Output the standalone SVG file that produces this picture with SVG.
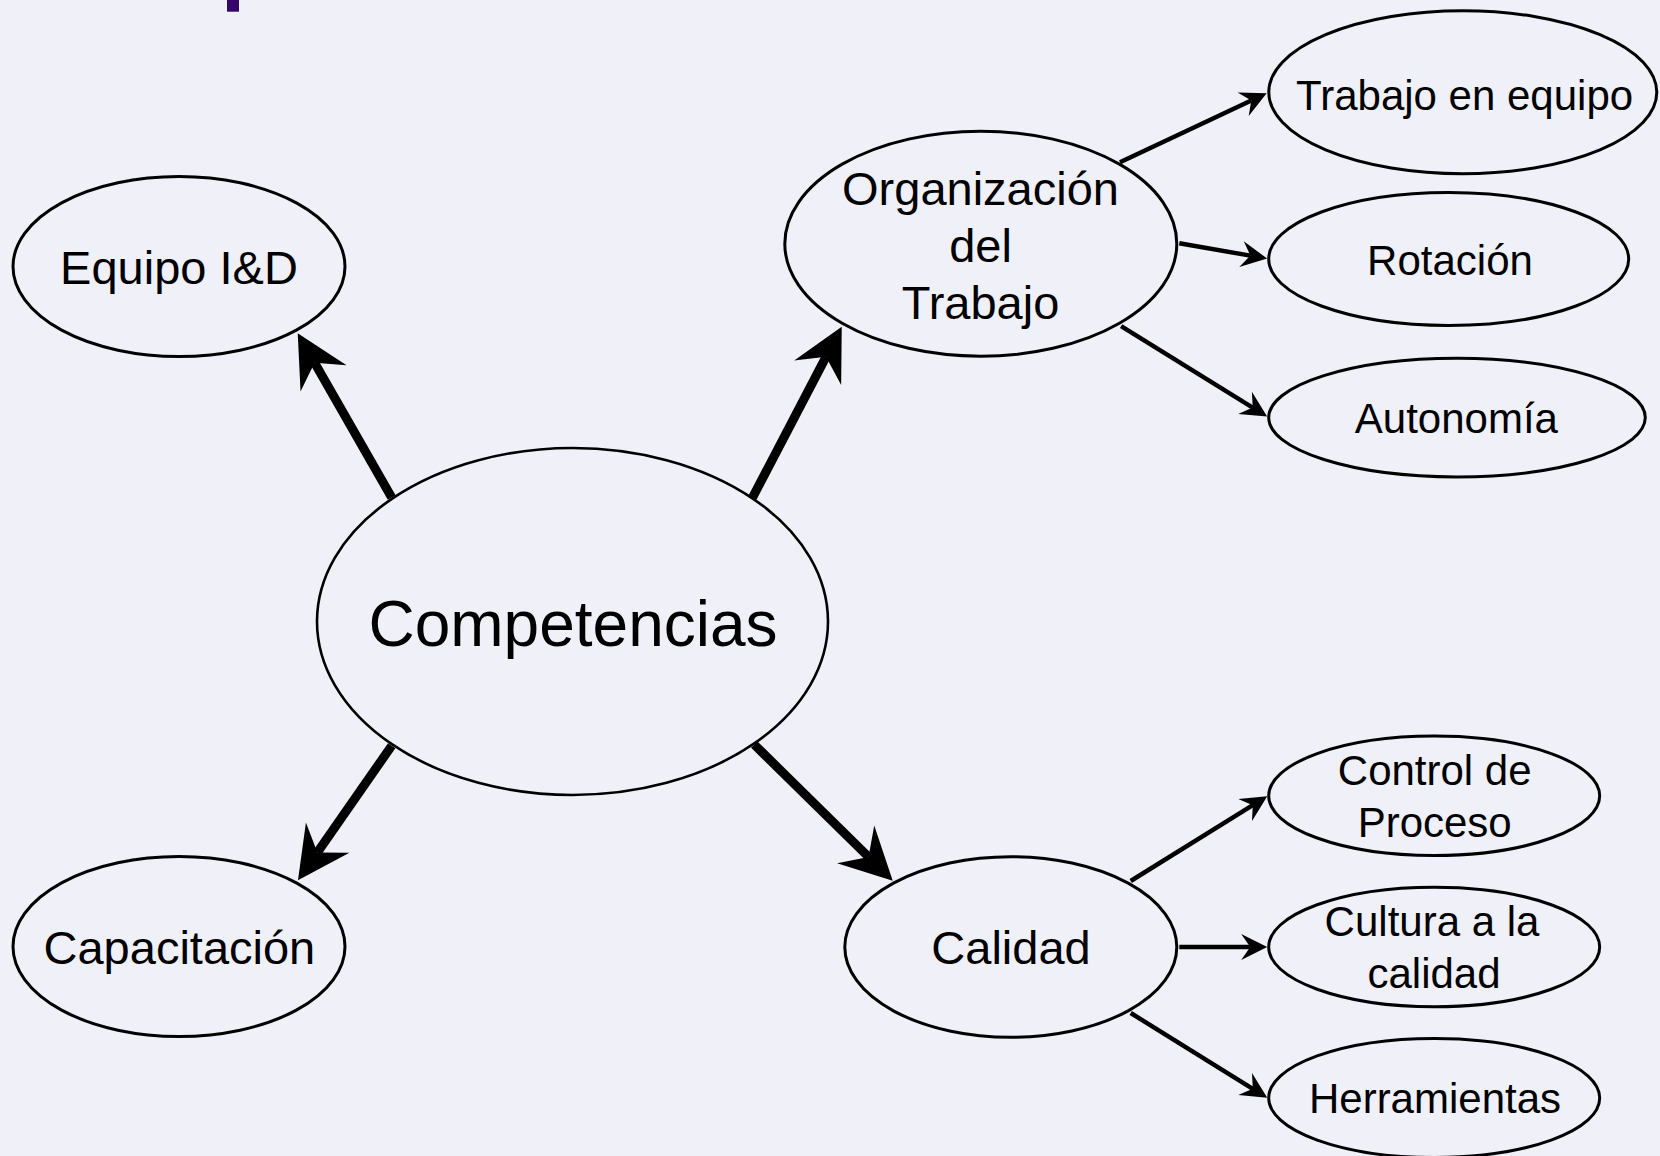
<svg xmlns="http://www.w3.org/2000/svg" width="1660" height="1156" viewBox="0 0 1660 1156">
<style>
.node{fill:none;stroke:#000;stroke-width:3}
.lbl{font-family:"Liberation Sans",Arial,sans-serif;fill:#000;text-anchor:middle}
.big{font-size:47px}
.sm{font-size:42px}
.thick{stroke:#000;stroke-width:9;fill:none}
.thin{stroke:#000;stroke-width:4.5;fill:none}
</style>
<defs>
<marker id="hBig" markerUnits="userSpaceOnUse" markerWidth="60" markerHeight="60" refX="0" refY="0" orient="auto" overflow="visible">
<path d="M34,0 L-18,-26.5 L0,0 L-18,26.5 Z" fill="#000"/>
</marker>
<marker id="hSm" markerUnits="userSpaceOnUse" markerWidth="30" markerHeight="30" refX="0" refY="0" orient="auto" overflow="visible">
<path d="M17,0 L-9,-13 L0,0 L-9,13 Z" fill="#000"/>
</marker>
</defs>
<rect x="0" y="0" width="1660" height="1156" fill="#EFF0F8"/>
<rect x="227" y="0" width="12" height="11.7" fill="#36076b"/>

<g id="connectors">
<line class="thick" x1="391.7" y1="497.6" x2="314.6" y2="362.8" marker-end="url(#hBig)"/>
<line class="thick" x1="752.5" y1="497.6" x2="826.0" y2="356.8" marker-end="url(#hBig)"/>
<line class="thick" x1="391.7" y1="745.7" x2="317.4" y2="852.4" marker-end="url(#hBig)"/>
<line class="thick" x1="754.3" y1="744.6" x2="868.5" y2="856.9" marker-end="url(#hBig)"/>
<line class="thin" x1="1120" y1="162.2" x2="1251.3" y2="100.5" marker-end="url(#hSm)"/>
<line class="thin" x1="1179.3" y1="243.3" x2="1250.4" y2="255.6" marker-end="url(#hSm)"/>
<line class="thin" x1="1121.1" y1="326.2" x2="1252.7" y2="407.6" marker-end="url(#hSm)"/>
<line class="thin" x1="1130.7" y1="881" x2="1252.8" y2="805.2" marker-end="url(#hSm)"/>
<line class="thin" x1="1179.3" y1="947" x2="1250.2" y2="947" marker-end="url(#hSm)"/>
<line class="thin" x1="1130.7" y1="1013" x2="1252.8" y2="1088.8" marker-end="url(#hSm)"/>
</g>

<g id="competencias">
<ellipse class="node" cx="572.5" cy="621.5" rx="255.5" ry="173.5" style="stroke-width:2.6"/>
<text class="lbl" x="573" y="645.5" font-size="64">Competencias</text>
</g>
<g id="equipo">
<ellipse class="node" cx="179" cy="266.5" rx="166" ry="90"/>
<text class="lbl big" x="179" y="284">Equipo I&amp;D</text>
</g>
<g id="capacitacion">
<ellipse class="node" cx="179" cy="946.5" rx="166" ry="90"/>
<text class="lbl big" x="179.4" y="964.3">Capacitación</text>
</g>
<g id="organizacion">
<ellipse class="node" cx="980.8" cy="243.7" rx="196" ry="112.5"/>
<text class="lbl big" x="980.5" y="204.6">Organización</text>
<text class="lbl big" x="980.5" y="261.5">del</text>
<text class="lbl big" x="980.5" y="318.5">Trabajo</text>
</g>
<g id="calidad">
<ellipse class="node" cx="1010.8" cy="947" rx="166" ry="90.3"/>
<text class="lbl big" x="1011" y="964.3">Calidad</text>
</g>
<g id="trabajo-equipo">
<ellipse class="node" cx="1462.8" cy="92.2" rx="194" ry="81.5"/>
<text class="lbl sm" x="1464.6" y="109.5">Trabajo en equipo</text>
</g>
<g id="rotacion">
<ellipse class="node" cx="1448.7" cy="259" rx="180" ry="66.5"/>
<text class="lbl sm" x="1450" y="274.6">Rotación</text>
</g>
<g id="autonomia">
<ellipse class="node" cx="1457" cy="417.6" rx="188.3" ry="59.3"/>
<text class="lbl sm" x="1456.4" y="433">Autonomía</text>
</g>
<g id="control">
<ellipse class="node" cx="1434.2" cy="795.8" rx="165.5" ry="59.7"/>
<text class="lbl sm" x="1434.7" y="785.2">Control de</text>
<text class="lbl sm" x="1434.7" y="837.1">Proceso</text>
</g>
<g id="cultura">
<ellipse class="node" cx="1434.2" cy="947" rx="165.5" ry="59.8"/>
<text class="lbl sm" x="1432" y="936.3">Cultura a la</text>
<text class="lbl sm" x="1434" y="987.9">calidad</text>
</g>
<g id="herramientas">
<ellipse class="node" cx="1434.2" cy="1098" rx="165.5" ry="59.5"/>
<text class="lbl sm" x="1435" y="1113.2">Herramientas</text>
</g>
</svg>
